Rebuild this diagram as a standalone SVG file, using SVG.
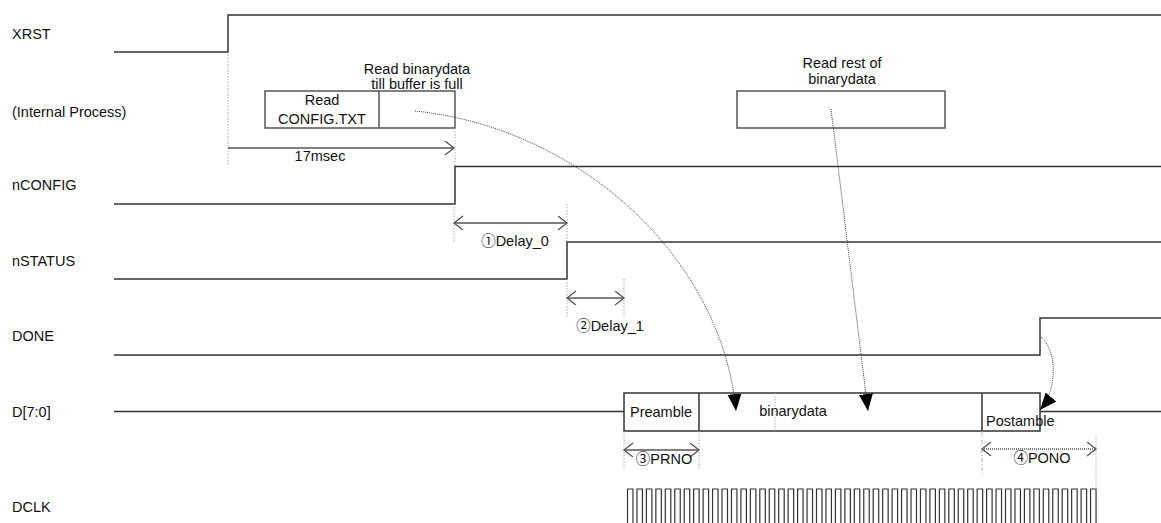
<svg xmlns="http://www.w3.org/2000/svg" width="1161" height="523" viewBox="0 0 1161 523">
<style>
text{font-family:"Liberation Sans","Noto Sans CJK JP",sans-serif;font-size:14.5px;fill:#111}
.c{text-anchor:middle}
.sig{fill:none;stroke:#333;stroke-width:1.5}
.box{fill:#fff;stroke:#555;stroke-width:1.5}
.guide{fill:none;stroke:#aaa;stroke-width:1;stroke-dasharray:1.5 1.5}
.dim{fill:none;stroke:#555;stroke-width:1.3;marker-start:url(#chev);marker-end:url(#chev)}
.dimr{fill:none;stroke:#555;stroke-width:1.3;marker-end:url(#chev)}
.flow{fill:none;stroke:#444;stroke-width:1;stroke-dasharray:1 1;marker-end:url(#tri)}
</style>
<defs>
<marker id="chev" markerUnits="userSpaceOnUse" markerWidth="12" markerHeight="16" refX="10" refY="7" orient="auto-start-reverse" viewBox="0 0 12 16">
<path d="M1,0 L10,7 L1,14" fill="none" stroke="#555" stroke-width="1.3"/>
</marker>
<marker id="tri" markerUnits="userSpaceOnUse" markerWidth="18" markerHeight="16" refX="17" refY="8" orient="auto" viewBox="0 0 18 16">
<path d="M0,1 L17,8 L0,15 z" fill="#000" stroke="none"/>
</marker>
</defs>
<rect width="1161" height="523" fill="#fff"/>

<g id="xrst">
<text x="12" y="39">XRST</text>
<path class="sig" d="M114,52 H228 V15 H1161"/>
</g>

<g id="internal">
<text x="12" y="117">(Internal Process)</text>
<rect class="box" x="265" y="91" width="190" height="37"/>
<line class="box" x1="379" y1="91" x2="379" y2="128"/>
<text class="c" x="322" y="105">Read</text>
<text class="c" x="322" y="124">CONFIG.TXT</text>
<text class="c" x="417" y="74">Read binarydata</text>
<text class="c" x="417" y="89">till buffer is full</text>
<rect class="box" x="737" y="91" width="208" height="37"/>
<text class="c" x="842" y="68">Read rest of</text>
<text class="c" x="842" y="84">binarydata</text>
<line class="guide" x1="228" y1="52" x2="228" y2="166"/>
<line class="guide" x1="455" y1="128" x2="455" y2="166"/>
<line class="dimr" x1="228" y1="148" x2="454" y2="148"/>
<text class="c" x="320" y="161">17msec</text>
</g>

<g id="nconfig">
<text x="12" y="190">nCONFIG</text>
<path class="sig" d="M114,204 H455 V166.5 H1161"/>
<line class="guide" x1="454" y1="204" x2="454" y2="242"/>
<line class="guide" x1="567" y1="204" x2="567" y2="242"/>
<line class="dim" x1="454" y1="223" x2="567" y2="223"/>
<text class="c" x="515" y="246">①Delay_0</text>
</g>

<g id="nstatus">
<text x="12" y="266">nSTATUS</text>
<path class="sig" d="M114,279 H567 V242 H1161"/>
<line class="guide" x1="567" y1="279" x2="567" y2="317"/>
<line class="guide" x1="624" y1="279" x2="624" y2="317"/>
<line class="dim" x1="567" y1="298" x2="624" y2="298"/>
<text class="c" x="610" y="331">②Delay_1</text>
</g>

<g id="done">
<text x="12" y="341">DONE</text>
<path class="sig" d="M114,355 H1040 V318 H1161"/>
</g>

<g id="data">
<text x="12" y="417">D[7:0]</text>
<path class="sig" d="M114,411.5 H624"/>
<path class="sig" d="M1040,411.5 H1161"/>
<rect class="box" x="624" y="393" width="416" height="38" style="stroke:#333"/>
<line class="sig" x1="699" y1="393" x2="699" y2="431"/>
<line class="sig" x1="982" y1="393" x2="982" y2="431"/>
<line class="guide" x1="775" y1="393" x2="775" y2="431"/>
<text class="c" x="661" y="417">Preamble</text>
<text class="c" x="793" y="416">binarydata</text>
<text x="986" y="426">Postamble</text>
<line class="guide" x1="624" y1="431" x2="624" y2="470"/>
<line class="guide" x1="699" y1="431" x2="699" y2="470"/>
<line class="dim" x1="624" y1="450" x2="699" y2="450"/>
<text class="c" x="664" y="464">③PRNO</text>
<line class="guide" x1="982" y1="431" x2="982" y2="476" style="stroke-dasharray:4 2 1 2"/>
<line class="guide" x1="1096" y1="435" x2="1096" y2="488"/>
<line class="dim" x1="982" y1="449" x2="1096" y2="449" style="stroke-dasharray:1 1"/>
<text class="c" x="1042" y="463">④PONO</text>
</g>

<g id="dclk">
<text x="12" y="512">DCLK</text>
<path class="sig" style="stroke-width:1.2" d="M627.5,524
v-35 h5.5 v35 h3.95 v-35 h5.5 v35 h3.95 v-35 h5.5 v35 h3.95 v-35 h5.5 v35 h3.95 v-35 h5.5 v35 h3.95 v-35 h5.5 v35 h3.95 v-35 h5.5 v35 h3.95 v-35 h5.5 v35 h3.95 v-35 h5.5 v35 h3.95 v-35 h5.5 v35 h3.95
v-35 h5.5 v35 h3.95 v-35 h5.5 v35 h3.95 v-35 h5.5 v35 h3.95 v-35 h5.5 v35 h3.95 v-35 h5.5 v35 h3.95 v-35 h5.5 v35 h3.95 v-35 h5.5 v35 h3.95 v-35 h5.5 v35 h3.95 v-35 h5.5 v35 h3.95 v-35 h5.5 v35 h3.95
v-35 h5.5 v35 h3.95 v-35 h5.5 v35 h3.95 v-35 h5.5 v35 h3.95 v-35 h5.5 v35 h3.95 v-35 h5.5 v35 h3.95 v-35 h5.5 v35 h3.95 v-35 h5.5 v35 h3.95 v-35 h5.5 v35 h3.95 v-35 h5.5 v35 h3.95 v-35 h5.5 v35 h3.95
v-35 h5.5 v35 h3.95 v-35 h5.5 v35 h3.95 v-35 h5.5 v35 h3.95 v-35 h5.5 v35 h3.95 v-35 h5.5 v35 h3.95 v-35 h5.5 v35 h3.95 v-35 h5.5 v35 h3.95 v-35 h5.5 v35 h3.95 v-35 h5.5 v35 h3.95 v-35 h5.5 v35 h3.95
v-35 h5.5 v35 h3.95 v-35 h5.5 v35 h3.95 v-35 h5.5 v35 h3.95 v-35 h5.5 v35 h3.95 v-35 h5.5 v35 h3.95 v-35 h5.5 v35 h3.95 v-35 h5.5 v35 h3.95 v-35 h5.5 v35 h3.95 v-35 h5.5 v35 h3.95 v-35 h5.5 v35"/>
</g>

<g id="connectors">
<path class="flow" d="M415,111 C580,128 722,258 736,411"/>
<path class="flow" d="M831,109 L868,411"/>
<path class="flow" d="M1041,337 C1058,352 1057,390 1040,410"/>
</g>
</svg>
